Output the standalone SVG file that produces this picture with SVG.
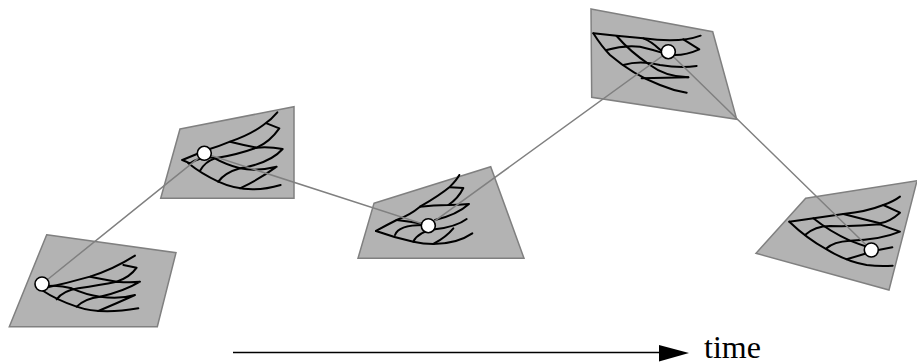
<svg xmlns="http://www.w3.org/2000/svg" width="917" height="362" viewBox="0 0 917 362">
<style>
.panel{fill:#b3b3b3;stroke:#808080;stroke-width:1.5;stroke-linejoin:miter}
.mesh{fill:none;stroke:#000;stroke-width:2;stroke-linejoin:round;stroke-linecap:round}
.mesh path{vector-effect:non-scaling-stroke}
.dot{fill:#fff;stroke:#000;stroke-width:1.6}
.link{fill:none;stroke:#808080;stroke-width:1.5}
.axis{fill:none;stroke:#000;stroke-width:1.7}
.label{font-family:"Liberation Serif",serif;font-size:32px;fill:#000}
</style>
<g id="panel-1"><polygon class="panel" points="46.7,234.7 176,252.7 157.3,326.7 9.3,326.7"/>
<g class="mesh" transform="translate(0,220) scale(0.3333)">
<path d="M130,205 Q200,190 270,170 Q340,148 405,107"/>
<path d="M370,135 L410,143 Q390,172 350,185 Q310,178 270,170"/>
<path d="M170,238 Q190,212 235,205 Q300,195 350,185 Q390,188 420,185 Q370,215 300,230 Q255,235 230,260"/>
<path d="M130,200 Q170,192 215,205 Q260,225 300,230 Q360,238 405,225 Q350,250 295,273"/>
<path d="M125,210 Q170,240 230,260 Q300,285 415,265"/>
</g></g>
<g id="panel-2"><polygon class="panel" points="180,129 294,106.7 294,198.3 160.7,198.3"/>
<g class="mesh" transform="translate(150,100) scale(0.3333)">
<path d="M97,180 L170,150 Q205,140 240,125 Q300,105 340,75 Q365,58 382,37"/>
<path d="M350,70 L388,85 Q360,125 320,143 Q280,135 240,125"/>
<path d="M150,212 Q165,185 195,175 Q260,165 320,143 Q360,140 398,147 Q360,190 270,205 Q225,218 205,245"/>
<path d="M97,180 L120,190 Q150,170 190,173 Q230,195 270,205 Q320,215 380,200 Q325,240 270,265"/>
<path d="M115,190 Q155,222 205,245 Q290,285 392,255"/>
</g></g>
<g id="panel-3"><polygon class="panel" points="374,203.3 490.7,166.7 524,258.3 358,258.3"/>
<g class="mesh" transform="translate(350,160) scale(0.3333)">
<path d="M78,213 Q110,195 140,180 Q180,165 210,140 Q270,105 300,80 Q320,60 328,45"/>
<path d="M300,82 L340,84 Q325,115 295,135 Q250,135 210,140"/>
<path d="M255,180 Q320,165 357,132 Q325,135 295,135"/>
<path d="M140,180 Q180,185 220,192"/>
<path d="M135,225 Q145,195 220,195"/>
<path d="M190,245 Q205,215 255,208 Q320,200 350,177"/>
<path d="M78,213 Q130,232 190,245 Q220,252 250,252 Q320,252 367,220"/>
<path d="M250,252 Q290,230 310,205"/>
</g></g>
<g id="panel-4"><polygon class="panel" points="591,9 712.7,31.7 736.7,119.3 591.7,97.3"/>
<g class="mesh" transform="translate(580,0) scale(0.3333)">
<path d="M40,100 Q110,108 190,115 Q300,130 362,107"/>
<path d="M310,118 L358,148 Q320,165 285,165 Q250,160 235,145 Q215,125 190,115"/>
<path d="M80,150 Q130,135 180,140 Q215,148 245,158"/>
<path d="M40,100 Q65,140 90,165 Q160,225 240,255 Q280,272 320,278"/>
<path d="M110,108 Q150,155 210,195 Q255,230 325,232"/>
<path d="M130,195 Q180,180 240,195 Q300,205 350,198"/>
<path d="M185,235 L325,232"/>
</g></g>
<g id="panel-5"><polygon class="panel" points="805.7,198.3 917,180.7 889,290 756,253.3"/>
<g class="mesh" transform="translate(750,170) scale(0.3333)">
<path d="M118,155 Q200,143 280,132 Q350,125 400,105 Q430,95 450,80"/>
<path d="M400,105 L450,128 Q420,155 390,160 Q330,145 280,132"/>
<path d="M165,195 Q195,168 240,168 Q320,170 390,163 Q420,175 450,185 Q390,210 300,212 Q250,215 230,235"/>
<path d="M118,155 Q170,205 230,238 Q290,275 350,285 Q390,290 428,287"/>
<path d="M190,145 Q240,185 300,212 Q325,222 350,230"/>
<path d="M385,240 L427,232"/>
<path d="M290,268 L350,250"/>
</g></g>
<g id="connectors">
<polyline class="link" points="42,284 204.3,153.3 428.3,225.7 668.3,51.7 871.3,250"/>
<line class="axis" x1="233" y1="352.5" x2="662" y2="352.5"/>
<polygon points="659,345 689,353 659,361.5" fill="#000"/>
</g>
<g id="dots">
<circle class="dot" cx="42" cy="284" r="7"/>
<circle class="dot" cx="204.3" cy="153.3" r="7"/>
<circle class="dot" cx="428.3" cy="225.7" r="7"/>
<circle class="dot" cx="668.3" cy="51.7" r="7"/>
<circle class="dot" cx="871.3" cy="250" r="7"/>
</g>
<g id="time-label"><text class="label" x="704" y="358">time</text></g>
</svg>
